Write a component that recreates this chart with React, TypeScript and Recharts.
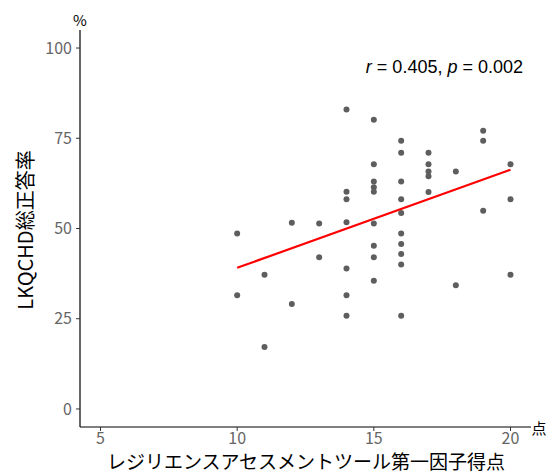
import React from 'react';
import { ScatterChart, Scatter, XAxis, YAxis } from 'recharts';

// Resilience assessment tool, factor 1 score (x) and LKQCHD total correct rate % (y)
const resilienceScores = [
  10, 10,
  11, 11,
  12, 12,
  13, 13,
  14, 14, 14, 14, 14, 14, 14,
  15, 15, 15, 15, 15, 15, 15, 15, 15,
  16, 16, 16, 16, 16, 16, 16, 16, 16, 16,
  17, 17, 17, 17, 17,
  18, 18,
  19, 19, 19,
  20, 20, 20,
];
const correctRates = [
  48.6, 31.5,
  37.2, 17.2,
  51.6, 29.1,
  51.4, 42.0,
  83.0, 60.2, 58.1, 51.7, 38.9, 31.5, 25.8,
  80.1, 67.8, 63.0, 61.4, 60.2, 51.4, 45.2, 42.0, 35.5,
  74.3, 71.0, 63.0, 58.1, 54.3, 48.6, 45.7, 42.9, 40.0, 25.8,
  71.0, 67.8, 65.8, 64.5, 60.1,
  65.8, 34.3,
  77.1, 74.3, 54.9,
  67.8, 58.1, 37.2,
];

// Regression line end points
const fitX = [10, 20];
const fitY = [39.1, 66.3];

const xTicks = [5, 10, 15, 20];
const yTicks = [0, 25, 50, 75, 100];

const points = resilienceScores.map((x, i) => ({ x, y: correctRates[i] }));
const fitLine = fitX.map((x, i) => ({ x, y: fitY[i] }));

const JP = '"Noto Sans CJK JP", "Noto Sans", sans-serif';

const Dot = (props: any) => (
  <circle cx={props.cx} cy={props.cy} r={3} fill="#5e5e5e" />
);

const NoShape = () => <g />;

const YLabel = () => (
  <g>
    <text
      x={24}
      y={230}
      transform="rotate(-90 24 230)"
      textAnchor="middle"
      dominantBaseline="central"
      fontFamily={JP}
      fontSize={20}
      fill="#000"
    >
      LKQCHD総正答率
    </text>
    <text
      x={80}
      y={19}
      textAnchor="middle"
      dominantBaseline="central"
      fontFamily={JP}
      fontSize={15}
      fill="#000"
    >
      %
    </text>
    <text
      x={523}
      y={67}
      textAnchor="end"
      dominantBaseline="central"
      fontFamily='"Liberation Sans", Arial, sans-serif'
      fontSize={18}
      fill="#000"
    >
      <tspan fontStyle="italic">r</tspan>
      <tspan> = 0.405, </tspan>
      <tspan fontStyle="italic">p</tspan>
      <tspan> = 0.002</tspan>
    </text>
  </g>
);

const XLabel = () => (
  <g>
    <text
      x={306}
      y={460}
      textAnchor="middle"
      dominantBaseline="central"
      fontFamily={JP}
      fontSize={19}
      fill="#000"
    >
      レジリエンスアセスメントツール第一因子得点
    </text>
    <text
      x={539}
      y={427}
      textAnchor="middle"
      dominantBaseline="central"
      fontFamily={JP}
      fontSize={15}
      fill="#000"
    >
      点
    </text>
  </g>
);

export default function App() {
  return (
    <div style={{ position: 'absolute', left: 0, top: 0, width: 551, height: 471, background: '#fff' }}>
      <ScatterChart
        width={551}
        height={471}
        margin={{ top: 30, right: 20, bottom: 0, left: 0 }}
      >
        <XAxis
          type="number"
          dataKey="x"
          domain={[4.25, 20.75]}
          ticks={xTicks}
          allowDataOverflow
          height={44}
          tickSize={4}
          tickMargin={2}
          axisLine={{ stroke: '#000', strokeWidth: 1.2 }}
          tickLine={{ stroke: '#333', strokeWidth: 1 }}
          tick={{ fill: '#666', fontSize: 16, fontFamily: JP }}
          label={<XLabel />}
        />
        <YAxis
          type="number"
          dataKey="y"
          domain={[-5, 105]}
          ticks={yTicks}
          allowDataOverflow
          width={80}
          tickSize={4}
          tickMargin={4}
          axisLine={{ stroke: '#000', strokeWidth: 1.2 }}
          tickLine={{ stroke: '#333', strokeWidth: 1 }}
          tick={{ fill: '#666', fontSize: 16, fontFamily: JP }}
          label={<YLabel />}
        />
        <Scatter data={points} shape={<Dot />} isAnimationActive={false} />
        <Scatter
          data={fitLine}
          line={{ stroke: '#ff0000', strokeWidth: 2.2 }}
          lineType="joint"
          shape={<NoShape />}
          isAnimationActive={false}
        />
      </ScatterChart>
    </div>
  );
}
